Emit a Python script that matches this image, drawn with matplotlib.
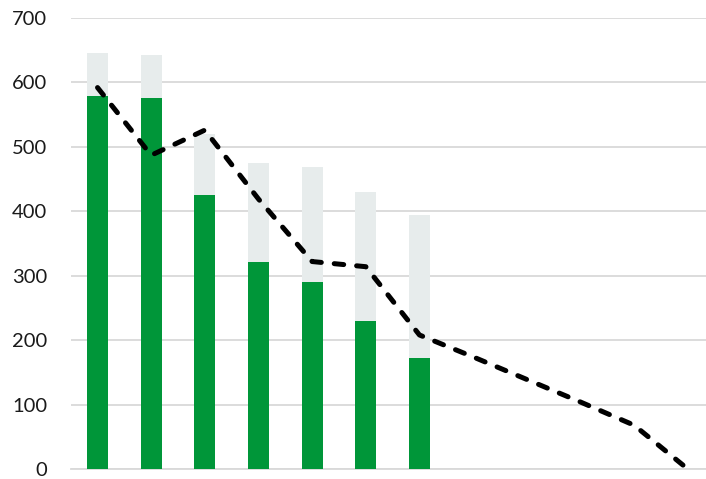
import matplotlib.pyplot as plt
import numpy as np

# bar data (first 7 periods), dashed trajectory over all 12
periods = np.arange(12)
actual = [579, 576, 425, 321, 291, 230, 173]
total = [646, 643, 520, 475, 469, 430, 394]
trajectory = [592, 487, 526, 419, 322, 314, 208, 174, 139, 104, 68, 0]

green = '#009639'
grey = '#E7ECEC'

remainder = [t - a for t, a in zip(total, actual)]
xb = periods[:len(actual)]

fig = plt.figure(figsize=(7.06, 4.79), dpi=100)
ax = fig.add_axes([70.7 / 706, 10 / 479, 1 - 70.7 / 706, 451 / 479])

ax.bar(xb, actual, width=0.39, color=green, zorder=2)
ax.bar(xb, remainder, bottom=actual, width=0.39, color=grey, zorder=2)

line, = ax.plot(periods, trajectory, color='black', lw=3.6,
                solid_capstyle='round', dash_capstyle='round', zorder=3)
line.set_dashes([1.9, 2.6])
line.set_dash_joinstyle('round')

ax.set_xlim(-0.5, 11.34)
ax.set_ylim(0, 700)
ax.set_yticks(range(0, 701, 100))
ax.set_xticks([])
ax.grid(axis='y', color='#D9D9D9', lw=1.3, zorder=0)
ax.tick_params(axis='y', length=0, pad=17, labelsize=14.5, labelcolor='#1a1a1a')
for lbl in ax.get_yticklabels():
    lbl.set_family(['Lato', 'DejaVu Sans'])
for s in ax.spines.values():
    s.set_visible(False)
ax.axhline(0, color='#D9D9D9', lw=1.3, zorder=1, clip_on=False)

fig.savefig('out.png', dpi=100)
